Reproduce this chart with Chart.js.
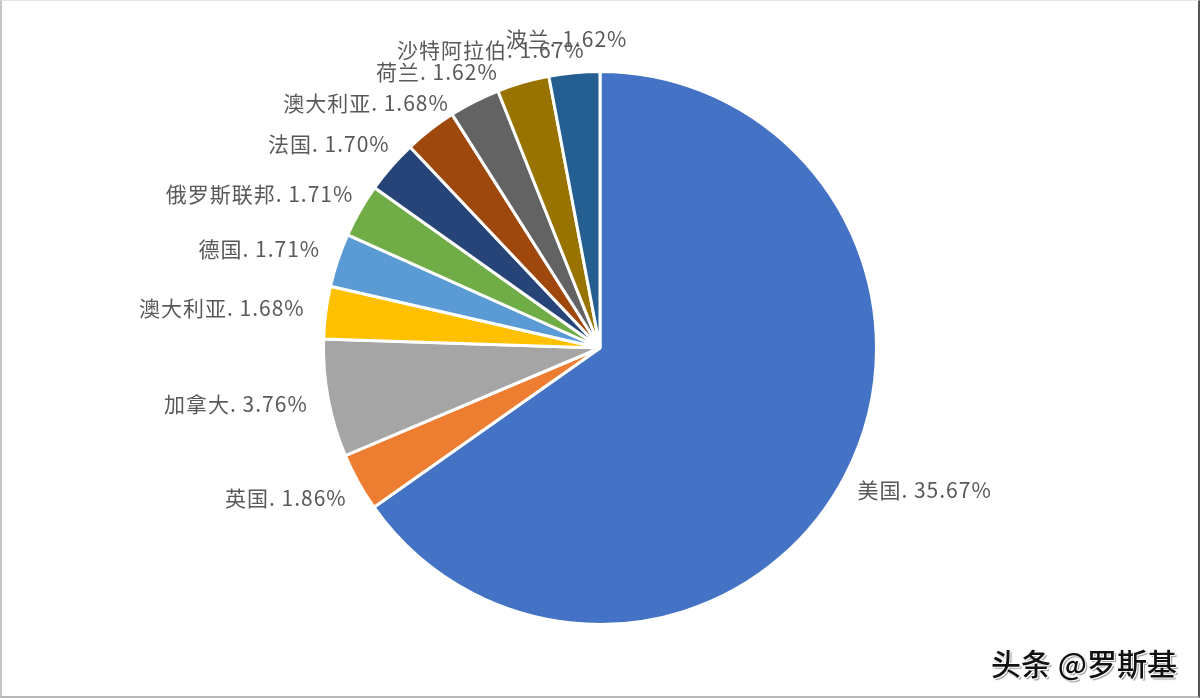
<!DOCTYPE html>
<html>
<head>
<meta charset="utf-8">
<title>pie</title>
<script src="https://cdn.jsdelivr.net/npm/chart.js@4"></script>
<style>
  html, body { margin: 0; padding: 0; background: #fff; }
  .frame { position: relative; width: 1200px; height: 698px; overflow: hidden; }
  .edge {
    position: absolute; left: 0; top: 0; right: 0; bottom: 0;
    box-sizing: border-box;
    border-left: 2px solid #c4c4c4;
    border-right: 2px solid #555;
    border-bottom: 2px solid #b8b8b8;
    border-top: 1px solid #e4e4e4;
    pointer-events: none;
  }
  canvas { position: absolute; left: 0; top: 0; }
  .mark {
    position: absolute; left: 991px; top: 640px;
    font-family: "Noto Sans CJK SC", sans-serif;
    font-size: 30px; font-weight: 500; color: #111;
    text-shadow: 1px 1px 0 #fff, -1px -1px 0 #fff, 2px 2px 1px #999;
  }
</style>
</head>
<body>
<div class="frame">
  <canvas id="pie" width="1200" height="698"></canvas>
  <div class="mark">头条 @罗斯基</div>
  <div class="edge"></div>
</div>
<script>
const countries = ["美国", "英国", "加拿大", "澳大利亚", "德国", "俄罗斯联邦", "法国", "澳大利亚", "荷兰", "沙特阿拉伯", "波兰"];
const shares = [35.67, 1.86, 3.76, 1.68, 1.71, 1.71, 1.70, 1.68, 1.62, 1.67, 1.62];
const colors = ["#4472C4", "#ED7D31", "#A5A5A5", "#FFC000", "#5B9BD5", "#70AD47", "#264478", "#9E480E", "#636363", "#997300", "#255E91"];

// draws "name. value%" outside each slice, the way office charts place them
const outsideLabels = {
  id: 'outsideLabels',
  afterDatasetsDraw(chart) {
    const ctx = chart.ctx;
    const meta = chart.getDatasetMeta(0);
    ctx.save();
    ctx.font = '21px "Noto Sans CJK SC", sans-serif';
    ctx.letterSpacing = '1px';
    ctx.fillStyle = '#595959';
    ctx.textBaseline = 'top';
    ctx.textAlign = 'left';
    meta.data.forEach((arc, i) => {
      const p = arc.getProps(['x', 'y', 'startAngle', 'endAngle', 'outerRadius'], true);
      const mid = (p.startAngle + p.endAngle) / 2;
      const r = p.outerRadius + 22;
      const ax = p.x + Math.cos(mid) * r;
      const ay = p.y + Math.sin(mid) * r;
      const text = countries[i] + '. ' + shares[i].toFixed(2) + '%';
      const w = ctx.measureText(text).width;
      const h = 22;
      const left = ax - w / 2 + (w / 2) * Math.cos(mid);
      const top = ay - h / 2 + (h / 2) * Math.sin(mid);
      ctx.fillText(text, left, top);
    });
    ctx.restore();
  }
};

new Chart(document.getElementById('pie'), {
  type: 'pie',
  data: {
    labels: countries,
    datasets: [{
      data: shares,
      backgroundColor: colors,
      borderColor: '#ffffff',
      borderWidth: 3
    }]
  },
  options: {
    responsive: false,
    animation: false,
    layout: { padding: { top: 70, bottom: 72, left: 300, right: 300 } },
    plugins: {
      legend: { display: false },
      tooltip: { enabled: false }
    }
  },
  plugins: [outsideLabels]
});
</script>
</body>
</html>
